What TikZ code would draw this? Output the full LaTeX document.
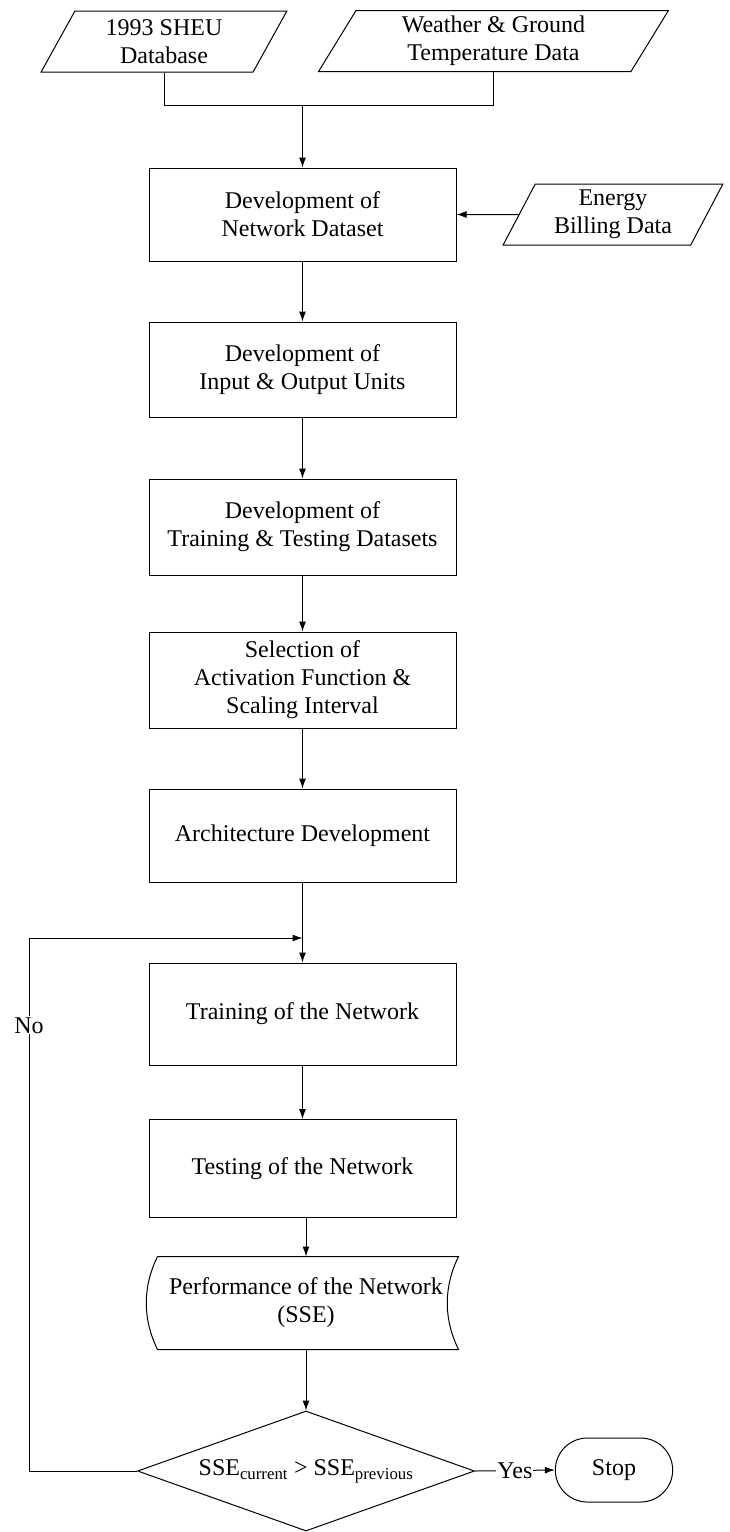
\documentclass[tikz,border=0pt]{standalone}
\usepackage{fontspec}
\setmainfont{Liberation Serif}
\usepackage{tikz}
\usetikzlibrary{shapes.geometric}
\usetikzlibrary{shapes.misc}
\usetikzlibrary{arrows.meta}

\tikzset{
  process/.style = {draw, rectangle, minimum width=307pt, minimum height=95pt,
                    align=center, inner sep=2pt},
  datain/.style  = {draw, trapezium, trapezium left angle=64, trapezium right angle=116,
                    trapezium stretches=true, minimum height=61pt, align=center, inner sep=1pt},
  stored/.style  = {rectangle, minimum width=300pt, minimum height=92pt, align=center, inner sep=2pt},
  decision/.style = {draw, diamond, aspect=2.8, minimum width=337pt, minimum height=120pt, inner sep=0pt},
  terminal/.style = {draw, rounded rectangle, minimum width=124pt, minimum height=64pt},
  arr/.style = {-{Latex[length=10pt,width=7pt]}}
}

\begin{document}
\begin{tikzpicture}[x=1pt, y=-1pt, font=\fontsize{24}{28}\selectfont, line width=1pt]
        \useasboundingbox (0,0) rectangle (730,1532);

        % data sources
        \node[datain, minimum width=246pt] (sheu) at (164,41.5) {1993 SHEU\\Database};
        \node[datain, minimum width=351pt] (weather) at (493.5,41) {Weather \& Ground\\Temperature Data};
        \node[datain, minimum width=220pt] (billing) at (613,214.5) {Energy\\Billing Data};

        % steps
        \node[process, minimum height=93pt] (dataset) at (302.5,214.5) {Development of\\Network Dataset};
        \node[process] (units) at (302.5,369.5) {Development of\\Input \& Output Units};
        \node[process, minimum height=96pt] (sets) at (302.5,527) {Development of\\Training \& Testing Datasets};
        \node[process, minimum height=96pt] (activation) at (302.5,680) {Selection of\\Activation Function \&\\Scaling Interval};
        \node[process, minimum height=93pt] (architecture) at (302.5,835.5) {Architecture Development};
        \node[process, minimum height=102pt] (training) at (302.5,1014) {Training of the Network};
        \node[process, minimum height=98pt] (testing) at (302.5,1168.5) {Testing of the Network};
        \node[stored] (perf) at (306,1303) {Performance of the Network\\(SSE)};
        \node[decision] (check) at (306,1471) {SSE\textsubscript{current} > SSE\textsubscript{previous}};
        \node[terminal] (stop) at (614,1470) {Stop};

        \coordinate (merge) at (302.5,105);
        \coordinate (loop) at (302.5,938);
        \coordinate (corner) at (29,938);

        % stored data outline
        \draw ([xshift=2pt]perf.north west) -- ([xshift=2pt]perf.north east)
            .. controls ([xshift=-13pt,yshift=-30.7pt]perf.north east) and ([xshift=-13pt,yshift=30.7pt]perf.south east) .. ([xshift=2pt]perf.south east)
            -- ([xshift=2pt]perf.south west)
            .. controls ([xshift=-13pt,yshift=30.7pt]perf.south west) and ([xshift=-13pt,yshift=-30.7pt]perf.north west) .. ([xshift=2pt]perf.north west);

        % connectors
        \draw (sheu.south) |- (merge);
        \draw (weather.south) |- (merge);
        \draw[arr] (merge) -- (dataset);
        \draw[arr] (billing) -- (dataset);
        \draw[arr] (dataset) -- (units);
        \draw[arr] (units) -- (sets);
        \draw[arr] (sets) -- (activation);
        \draw[arr] (activation) -- (architecture);
        \draw[arr] (architecture) -- (training);
        \draw[arr] (training) -- (testing);
        \draw[arr] (testing.south -| perf.north) -- (perf.north);
        \draw[arr] (perf.south -| check.north) -- (check.north);
        \draw[arr] (check.west) -| node[pos=0.918, fill=white, inner sep=1pt] (no) {No} (corner) -- (loop);
        \draw[arr] (check.east) -- node[fill=white, inner sep=1pt] (yes) {Yes} (stop.west);
\end{tikzpicture}
\end{document}
